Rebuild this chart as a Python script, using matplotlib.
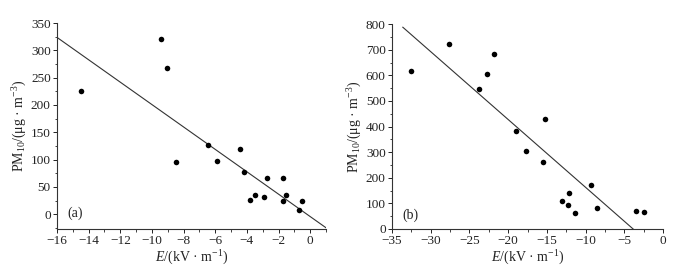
import matplotlib
matplotlib.use("Agg")
import matplotlib.pyplot as plt
from matplotlib.ticker import MultipleLocator
import numpy as np

plt.rcParams["font.family"] = ["Liberation Serif", "DejaVu Serif"]
plt.rcParams["mathtext.fontset"] = "custom"
plt.rcParams["mathtext.it"] = "Liberation Serif:italic"
plt.rcParams["mathtext.rm"] = "Liberation Serif"

# --- data panel (a) ---
e_a = [-14.5, -9.43, -9.03, -8.46, -6.46, -5.89, -4.43, -4.2, -2.74, -1.75,
       -3.8, -3.48, -2.95, -1.73, -1.56, -0.72, -0.49]
pm_a = [225, 321, 268, 96, 126, 98, 120, 77, 66, 66,
        26, 36, 31, 25, 35, 7, 25]
slope_a, icpt_a = -20.5, -4.3
line_x_a = [-16, 1]

# --- data panel (b) ---
e_b = [-32.5, -27.7, -21.8, -22.7, -23.8, -15.3, -19.0, -17.7, -15.5, -9.26,
       -12.1, -13.1, -12.3, -11.4, -8.48, -3.52, -2.48]
pm_b = [615, 721, 684, 606, 546, 431, 381, 304, 260, 172,
        142, 109, 92, 62, 82, 70, 65]
slope_b, icpt_b = -26.5, -102.6
line_x_b = [-33.6, -3.87]

xlabel = "$E$/(kV · m$^{-1}$)"
ylabel = "PM$_{10}$/(μg · m$^{-3}$)"

fig = plt.figure(figsize=(6.97, 2.71), dpi=100)
ax1 = fig.add_axes([0.0818, 0.155, 0.386, 0.760])
ax2 = fig.add_axes([0.5624, 0.155, 0.389, 0.756])


def style(ax):
    for s in ["top", "right"]:
        ax.spines[s].set_visible(False)
    for s in ["left", "bottom"]:
        ax.spines[s].set_linewidth(0.8)
        ax.spines[s].set_color("#333333")
    ax.tick_params(which="major", direction="out", length=3, width=0.7,
                   labelsize=9.5, pad=1.5, colors="#222222")
    ax.tick_params(which="minor", direction="out", length=1.8, width=0.6,
                   colors="#222222")
    ax.set_xlabel(xlabel, fontsize=10, labelpad=1, color="#222222")
    ax.set_ylabel(ylabel, fontsize=10, labelpad=1, color="#222222")


# (a)
ax1.scatter(e_a, pm_a, s=16, color="black", zorder=3, linewidths=0)
xa = np.array(line_x_a)
ax1.plot(xa, slope_a * xa + icpt_a, color="#333333", lw=0.8)
ax1.set_xlim(-16, 1)
ax1.set_ylim(-27, 350)
ax1.xaxis.set_major_locator(MultipleLocator(2))
ax1.xaxis.set_minor_locator(MultipleLocator(1))
ax1.yaxis.set_major_locator(MultipleLocator(50))
ax1.yaxis.set_minor_locator(MultipleLocator(25))
style(ax1)
ax1.text(0.04, 0.06, "(a)", transform=ax1.transAxes, fontsize=10, color="#222222")

# (b)
ax2.scatter(e_b, pm_b, s=16, color="black", zorder=3, linewidths=0)
xb = np.array(line_x_b)
ax2.plot(xb, slope_b * xb + icpt_b, color="#333333", lw=0.8)
ax2.set_xlim(-35, 0)
ax2.set_ylim(0, 800)
ax2.xaxis.set_major_locator(MultipleLocator(5))
ax2.xaxis.set_minor_locator(MultipleLocator(2.5))
ax2.yaxis.set_major_locator(MultipleLocator(100))
ax2.yaxis.set_minor_locator(MultipleLocator(50))
style(ax2)
ax2.text(0.04, 0.05, "(b)", transform=ax2.transAxes, fontsize=10, color="#222222")

fig.savefig("out.png", dpi=100)
